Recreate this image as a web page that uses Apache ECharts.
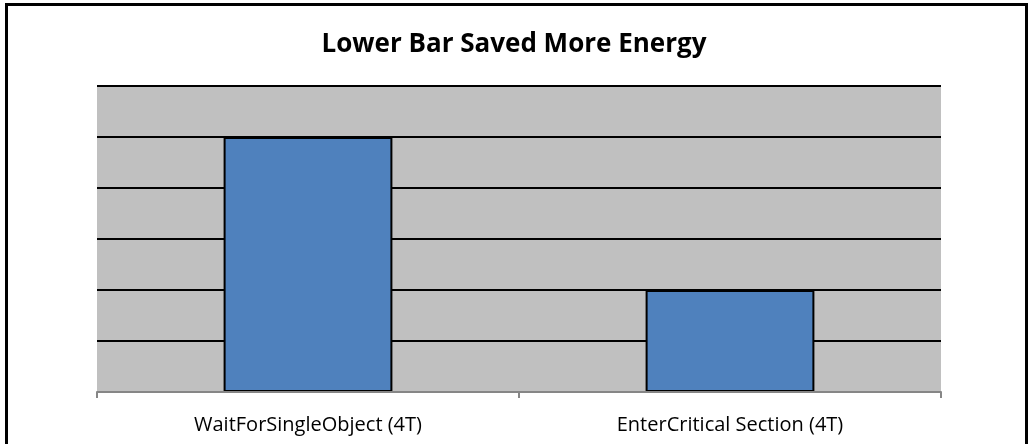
<!DOCTYPE html>
<html>
<head>
<meta charset="utf-8">
<script src="https://cdn.jsdelivr.net/npm/echarts@6/dist/echarts.min.js"></script>
<style>
  html, body { margin: 0; padding: 0; background: #fff; overflow: hidden; }
  #frame {
    position: absolute; left: 5px; top: 3px; width: 1023px; height: 470px;
    border: 3px solid #000; box-sizing: border-box;
  }
  #chart { position: absolute; left: 0; top: 0; width: 1028px; height: 444px; }
</style>
</head>
<body>
<div id="frame"></div>
<div id="chart"></div>
<script>
// chart data
const titleText = 'Lower Bar Saved More Energy';
const categories = ['WaitForSingleObject (4T)', 'EnterCritical Section (4T)'];
const energyValues = [5, 2];
const yMin = 0;
const yMax = 6;
const yStep = 1;

const chart = echarts.init(document.getElementById('chart'));
chart.setOption({
  animation: false,
  title: {
    text: titleText,
    left: 'center',
    top: 27,
    textStyle: {
      fontFamily: 'Open Sans',
      fontWeight: 'bold',
      fontSize: 26,
      color: '#000'
    }
  },
  grid: {
    left: 97,
    right: 87,
    top: 86,
    bottom: 52,
    show: true,
    backgroundColor: '#c0c0c0',
    borderWidth: 0
  },
  xAxis: {
    type: 'category',
    data: categories,
    axisLine: {
      show: true,
      lineStyle: { color: '#868686', width: 2 }
    },
    axisTick: {
      show: true,
      length: 6,
      lineStyle: { color: '#868686', width: 2 }
    },
    axisLabel: {
      fontFamily: 'Open Sans',
      fontSize: 20,
      color: '#000',
      margin: 23
    },
    z: 5
  },
  yAxis: {
    type: 'value',
    min: yMin,
    max: yMax,
    interval: yStep,
    axisLabel: { show: false },
    axisLine: { show: false },
    axisTick: { show: false },
    splitLine: {
      show: true,
      lineStyle: { color: '#000', width: 2 }
    }
  },
  series: [
    {
      type: 'bar',
      data: energyValues,
      barWidth: '40%',
      itemStyle: {
        color: '#4f81bd',
        borderColor: '#000',
        borderWidth: 2
      }
    }
  ]
});
</script>
</body>
</html>
